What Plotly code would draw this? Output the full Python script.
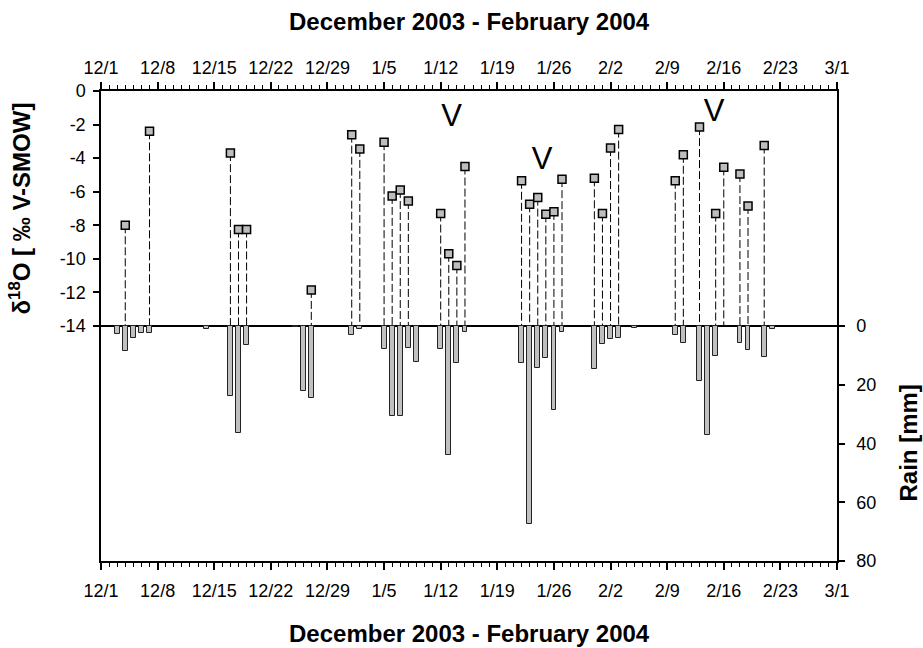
import pandas as pd
import plotly.graph_objects as go

# Oxygen isotope composition of rain samples (per mil vs V-SMOW)
iso_dates = ["2003-12-04", "2003-12-07", "2003-12-17", "2003-12-18", "2003-12-19",
             "2003-12-27", "2004-01-01", "2004-01-02", "2004-01-05", "2004-01-06",
             "2004-01-07", "2004-01-08", "2004-01-12", "2004-01-13", "2004-01-14",
             "2004-01-15", "2004-01-22", "2004-01-23", "2004-01-24", "2004-01-25",
             "2004-01-26", "2004-01-27", "2004-01-31", "2004-02-01", "2004-02-02",
             "2004-02-03", "2004-02-10", "2004-02-11", "2004-02-13", "2004-02-15",
             "2004-02-16", "2004-02-18", "2004-02-19", "2004-02-21"]
d18o = [-8.0, -2.4, -3.7, -8.25, -8.25,
        -11.85, -2.6, -3.45, -3.05, -6.25,
        -5.9, -6.55, -7.3, -9.7, -10.4,
        -4.5, -5.35, -6.75, -6.35, -7.35,
        -7.2, -5.25, -5.2, -7.3, -3.4,
        -2.3, -5.35, -3.8, -2.15, -7.3,
        -4.55, -4.95, -6.85, -3.25]

# Daily rainfall (mm)
rain_dates = ["2003-12-03", "2003-12-04", "2003-12-05", "2003-12-06", "2003-12-07",
              "2003-12-14", "2003-12-17", "2003-12-18", "2003-12-19", "2003-12-25",
              "2003-12-26", "2003-12-27", "2004-01-01", "2004-01-02", "2004-01-05",
              "2004-01-06", "2004-01-07", "2004-01-08", "2004-01-09", "2004-01-12",
              "2004-01-13", "2004-01-14", "2004-01-15", "2004-01-22", "2004-01-23",
              "2004-01-24", "2004-01-25", "2004-01-26", "2004-01-27", "2004-01-31",
              "2004-02-01", "2004-02-02", "2004-02-03", "2004-02-05", "2004-02-10",
              "2004-02-11", "2004-02-13", "2004-02-14", "2004-02-15", "2004-02-18",
              "2004-02-19", "2004-02-21", "2004-02-22"]
rain_mm = [2.8, 8.4, 4.2, 2.5, 2.3,
           0.9, 23.7, 36.5, 6.3, 0.4,
           22.0, 24.6, 2.9, 0.9, 7.9,
           30.7, 30.5, 7.5, 12.4, 7.9,
           43.8, 12.5, 1.9, 12.5, 67.5,
           14.4, 11.0, 28.7, 1.9, 14.5,
           6.1, 4.5, 4.0, 0.8, 3.1,
           5.7, 18.7, 37.0, 10.1, 5.9,
           8.2, 10.4, 1.1]

# "V" labels (date, d18O level where the letter sits)
v_dates = ["2004-01-13 08:00", "2004-01-24 13:00", "2004-02-14 19:00"]
v_levels = [-1.6, -4.2, -1.35]

d18o_ticks = [0, -2, -4, -6, -8, -10, -12, -14]
rain_ticks = [0, 20, 40, 60, 80]
x_range = ["2003-12-01", "2004-03-01"]
base_level = -14

FONT = "Liberation Sans, Arial, sans-serif"
DAY = 86400000
daily_ticks = [d.strftime("%Y-%m-%d") for d in pd.date_range(x_range[0], x_range[1], freq="D")]

# dashed stems from each isotope value down to the baseline
stem_x, stem_y = [], []
for d, v in zip(iso_dates, d18o):
    stem_x += [d, d, None]
    stem_y += [v, base_level, None]

fig = go.Figure()

fig.add_trace(go.Bar(
    x=rain_dates, y=rain_mm, base=0, xaxis="x3", yaxis="y2",
    width=0.6 * DAY,
    marker=dict(color="#c0c0c0", line=dict(color="#222222", width=1)),
    showlegend=False,
))

fig.add_trace(go.Scatter(
    x=stem_x, y=stem_y, mode="lines", xaxis="x", yaxis="y",
    line=dict(color="black", width=1, dash="8px,3px"),
    showlegend=False, hoverinfo="skip",
))

fig.add_trace(go.Scatter(
    x=iso_dates, y=d18o, mode="markers", xaxis="x2", yaxis="y",
    marker=dict(symbol="square", size=8, color="#bdbdbd",
                line=dict(color="black", width=1.5)),
    showlegend=False,
))

fig.add_trace(go.Scatter(
    x=v_dates, y=v_levels, mode="text", text=["V"] * len(v_dates),
    textposition="middle center", xaxis="x4", yaxis="y",
    textfont=dict(family=FONT, size=31, color="black"),
    showlegend=False, hoverinfo="skip",
))

tick_font = dict(family=FONT, size=18, color="black")

# daily (minor) tick axes
day_axis = dict(
    type="date", range=x_range, tickvals=daily_ticks, showticklabels=False,
    showgrid=False, zeroline=False, showline=True, linecolor="black", linewidth=1.5,
    ticks="outside", ticklen=4, tickwidth=1.3, tickcolor="black",
)
# weekly (major) tick axes with labels
week_axis = dict(
    type="date", range=x_range, tick0=x_range[0], dtick=7 * DAY,
    tickformat="%-m/%-d", showgrid=False, zeroline=False, showline=False,
    ticks="outside", ticklen=8, tickwidth=1.5, tickcolor="black",
    tickfont=tick_font,
)

fig.update_layout(
    width=923, height=648,
    margin=dict(l=101, r=86, t=91, b=87),
    paper_bgcolor="white", plot_bgcolor="white",
    bargap=0,
    xaxis=dict(**day_axis, anchor="y", side="bottom"),
    xaxis2=dict(**day_axis, anchor="y", side="top", overlaying="x"),
    xaxis3=dict(**week_axis, anchor="y", side="bottom", overlaying="x", ticklabelstandoff=5),
    xaxis4=dict(**week_axis, anchor="y", side="top", overlaying="x", ticklabelstandoff=1),
    yaxis=dict(
        range=[2 * base_level, 0], tickvals=d18o_ticks,
        ticktext=[str(t) for t in d18o_ticks],
        showgrid=False, zeroline=False, showline=True, linecolor="black", linewidth=1.5,
        ticks="outside", ticklen=6, tickwidth=1.5, tickcolor="black",
        tickfont=tick_font, ticklabelstandoff=4,
    ),
    yaxis2=dict(
        range=[rain_ticks[-1], -rain_ticks[-1]], tickvals=rain_ticks,
        overlaying="y", side="right", anchor="x",
        showgrid=False, zeroline=True, zerolinecolor="black", zerolinewidth=1.5,
        showline=True, linecolor="black", linewidth=1.5,
        ticks="outside", ticklen=6, tickwidth=1.5, tickcolor="black",
        tickfont=tick_font, ticklabelstandoff=8,
    ),
)

title_font = dict(family=FONT, size=24, color="black", weight="bold")
annotations = [
    dict(text="December 2003 - February 2004", xref="paper", yref="paper",
         x=0.5, y=1, yshift=70, xanchor="center", yanchor="middle",
         showarrow=False, font=title_font),
    dict(text="December 2003 - February 2004", xref="paper", yref="paper",
         x=0.5, y=0, yshift=-72, xanchor="center", yanchor="middle",
         showarrow=False, font=title_font),
    dict(text="δ<sup>18</sup>O [ ‰ V-SMOW]", xref="paper", yref="y",
         x=0, xshift=-82, y=base_level / 2, textangle=-90,
         xanchor="center", yanchor="middle", showarrow=False, font=title_font),
    dict(text="Rain [mm]", xref="paper", yref="y2",
         x=1, xshift=71, y=rain_ticks[-1] / 2, textangle=-90,
         xanchor="center", yanchor="middle", showarrow=False, font=title_font),
]
fig.update_layout(annotations=annotations)

fig.write_html("out.html")
